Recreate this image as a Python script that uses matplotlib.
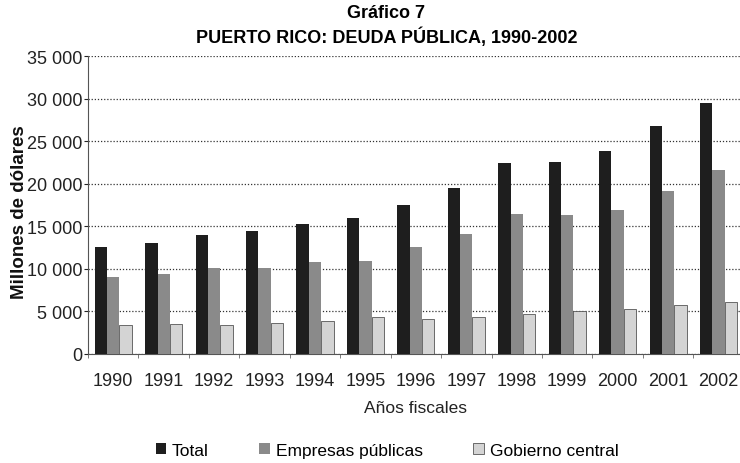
import numpy as np
import matplotlib.pyplot as plt
from matplotlib.ticker import FuncFormatter, FixedLocator

plt.rcParams['font.family'] = ['Liberation Sans', 'DejaVu Sans']

years = ['1990', '1991', '1992', '1993', '1994', '1995', '1996',
         '1997', '1998', '1999', '2000', '2001', '2002']
total = [12600, 13000, 14000, 14400, 15300, 16000, 17500,
         19500, 22400, 22600, 23800, 26800, 29500]
empresas = [9050, 9350, 10050, 10150, 10750, 10950, 12600,
            14100, 16500, 16300, 16900, 19200, 21600]
gobierno = [3350, 3550, 3450, 3600, 3850, 4400, 4050,
            4350, 4750, 5100, 5300, 5800, 6050]

fig = plt.figure(figsize=(7.4, 4.64), dpi=100)
ax = fig.add_axes([0.119, 0.235, 0.886, 0.642])

x = np.arange(len(years))
w = 0.245
b1 = ax.bar(x - w, total, w, color='#1e1e1e', label='Total', zorder=3)
b2 = ax.bar(x, empresas, w, color='#8a8a8a', label='Empresas públicas', zorder=3)
b3 = ax.bar(x + w, gobierno, w, color='#d4d4d4', edgecolor='#555555',
            linewidth=0.6, label='Gobierno central', zorder=3)

ax.set_ylim(0, 35000)
ax.set_xlim(-0.5, len(years) - 0.5)
ax.set_yticks(np.arange(0, 35001, 5000))
ax.yaxis.set_major_formatter(FuncFormatter(lambda v, p: f'{int(v):,}'.replace(',', ' ')))
ax.grid(axis='y', color='#333333', linestyle=(0, (1, 1.5)), linewidth=0.9, zorder=0)

ax.set_xticks(x)
ax.set_xticklabels(years)
ax.xaxis.set_minor_locator(FixedLocator(np.arange(-0.5, len(years), 1)))
ax.tick_params(axis='x', which='major', length=0, pad=13, labelsize=13, colors='#222222')
ax.tick_params(axis='x', which='minor', length=3, color='#666666')
ax.tick_params(axis='y', length=3, labelsize=13, colors='#222222', pad=1)

for s in ['top', 'right']:
    ax.spines[s].set_visible(False)
for s in ['left', 'bottom']:
    ax.spines[s].set_linestyle((0, (1, 1)))
    ax.spines[s].set_color('#555555')

ax.set_xlabel('Años fiscales', fontsize=12.5, labelpad=8, color='#222222')
fig.text(0.026, 0.543, 'Millones de dólares', rotation=90, ha='center', va='center',
         fontsize=13.5, fontweight='bold', color='#111111')

fig.text(0.522, 0.970, 'Gráfico 7', ha='center', va='center', fontsize=13, fontweight='bold')
fig.text(0.522, 0.920, 'PUERTO RICO: DEUDA PÚBLICA, 1990-2002', ha='center', va='center',
         fontsize=13, fontweight='bold')

fig.legend(handles=[b1, b2, b3], loc='center', bbox_to_anchor=(0.523, 0.027), ncol=3,
           frameon=False, fontsize=12.5, handlelength=0.6, handleheight=0.6,
           handletextpad=0.35, columnspacing=2.9)

fig.savefig('out.png', dpi=100)
